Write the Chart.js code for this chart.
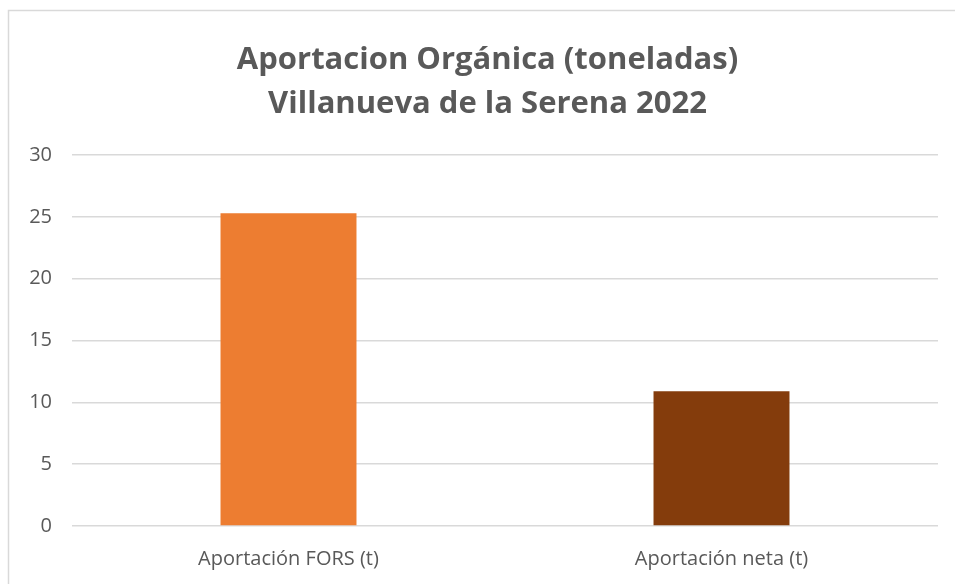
<!DOCTYPE html>
<html>
<head>
<meta charset="utf-8">
<script src="https://cdn.jsdelivr.net/npm/chart.js@4/dist/chart.umd.min.js"></script>
<style>
  body { margin: 0; background: #fff; overflow: hidden; }
  #wrap { width: 975px; height: 584px; }
</style>
</head>
<body>
<div id="wrap"><canvas id="myChart"></canvas></div>
<script>
'use strict';

// chart data
const categories = ["Aportación FORS (t)", "Aportación neta (t)"];
const values = [25.3, 10.9];
const barColors = ["#ED7D31", "#843C0C"];
const titleLines = ["Aportacion Orgánica (toneladas)", "Villanueva de la Serena 2022"];

// frame around the chart, like the excel one
const framePlugin = {
    id: "frame",
    beforeDraw(chart) {
        const ctx = chart.ctx;
        ctx.save();
        ctx.fillStyle = "#fff";
        ctx.fillRect(0, 0, chart.width, chart.height);
        ctx.strokeStyle = "#d9d9d9";
        ctx.lineWidth = 1.5;
        ctx.strokeRect(8.5, 10.5, 1000, 1000);
        ctx.restore();
    }
};

const config = {
    type: "bar",
    data: {
        labels: categories,
        datasets: [{
            data: values,
            backgroundColor: barColors,
            categoryPercentage: 1,
            barPercentage: 0.314
        }]
    },
    options: {
        responsive: true,
        maintainAspectRatio: false,
        animation: false,
        layout: { padding: 0 },
        plugins: {
            legend: { display: false },
            tooltip: { enabled: false },
            title: {
                display: true,
                text: titleLines,
                color: "#595959",
                font: { family: "Open Sans", size: 31, weight: "bold", lineHeight: 1.42 },
                padding: { top: 38, bottom: 29 }
            }
        },
        scales: {
            x: {
                grid: { display: false },
                border: { display: false },
                ticks: {
                    color: "#595959",
                    font: { family: "Open Sans", size: 20 },
                    padding: 13
                },
                afterFit(scale) { scale.height = 58; }
            },
            y: {
                min: 0,
                max: 30,
                grid: { color: "#d9d9d9", lineWidth: 1.5, drawTicks: false },
                border: { display: false },
                ticks: {
                    stepSize: 5,
                    color: "#595959",
                    font: { family: "Open Sans", size: 20 },
                    padding: 20
                },
                afterFit(scale) { scale.width = 72; }
            },
            // empty axis on the right, just keeps the plot off the right edge
            yRight: {
                position: "right",
                grid: { display: false },
                border: { display: false },
                ticks: { display: false },
                afterFit(scale) { scale.width = 37; }
            }
        }
    },
    plugins: [framePlugin]
};

const myChart = new Chart(document.getElementById("myChart"), config);
</script>
</body>
</html>
